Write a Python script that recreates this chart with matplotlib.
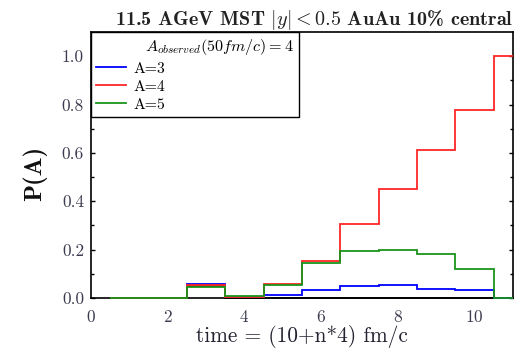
import numpy as np
import matplotlib
matplotlib.use("Agg")
import matplotlib.pyplot as plt
from matplotlib.patches import Rectangle

plt.rcParams["font.family"] = "serif"
plt.rcParams["font.serif"] = ["cmr10"]
plt.rcParams["mathtext.fontset"] = "cm"
plt.rcParams["axes.formatter.use_mathtext"] = True

# bin index n (time = 10 + n*4 fm/c)
n_bins = [1, 2, 3, 4, 5, 6, 7, 8, 9, 10, 11]
p_a3 = [0, 0, 0.059, 0.003, 0.013, 0.034, 0.049, 0.055, 0.037, 0.031, 0]
p_a4 = [0, 0, 0.055, 0.004, 0.059, 0.153, 0.305, 0.450, 0.612, 0.776, 1.0]
p_a5 = [0, 0, 0.047, 0.008, 0.052, 0.145, 0.194, 0.200, 0.182, 0.120, 0]
p_other = [0, 0, 0.051, 0, 0, 0, 0, 0, 0, 0, 0]

series = [
    ("A=3", p_a3, "#0000ff"),
    ("A=4", p_a4, "#ff2626"),
    ("A=5", p_a5, "#1a941a"),
]

edges = np.append(np.array(n_bins) - 0.5, n_bins[-1] + 0.5)

fig = plt.figure(figsize=(5.2, 3.55), dpi=100)
ax = fig.add_axes([0.175, 0.1606, 0.8115, 0.7494])

# clip to the x-range only, so lines at P=0 sit on top of the bottom spine
clip = Rectangle((0, -0.05), 1, 1.1, transform=ax.transAxes, visible=False)
ax.add_patch(clip)

# unlabeled black histogram sits underneath the others
arts = [ax.stairs(p_other, edges, color="black", lw=1.3, baseline=None, zorder=3)]
for label, vals, col in series:
    arts.append(ax.stairs(vals, edges, color=col, lw=1.3, label=label,
                          baseline=None, zorder=3))
for a in arts:
    a.set_clip_path(clip)

ax.set_xlim(0, 11)
ax.set_ylim(0, 1.1)
ax.set_xticks([0, 2, 4, 6, 8, 10])
ax.set_yticks([0.0, 0.2, 0.4, 0.6, 0.8, 1.0])
ax.set_yticklabels(["0.0", "0.2", "0.4", "0.6", "0.8", "1.0"])
ax.set_yticks(np.arange(0.1, 1.1, 0.2), minor=True)
ax.tick_params(axis="both", which="both", direction="in", colors="black",
               labelcolor="#3c3c50", labelsize=12.5, length=3, width=1)
ax.tick_params(axis="y", which="both", right=True, pad=5)
ax.tick_params(axis="y", which="minor", length=2)
ax.tick_params(axis="x", length=0, pad=8)
for sp in ax.spines.values():
    sp.set_linewidth(1.2)

ax.set_xlabel("time = (10+n*4) fm/c", fontsize=15.4, color="#222230", labelpad=0)
ax.set_ylabel("P(A)", fontfamily="cmb10", fontsize=18, color="#111111")
ax.yaxis.set_label_coords(-0.105, 0.47)
ax.set_title(r"11.5 AGeV MST $|y| < 0.5$ AuAu 10% central",
             fontfamily="cmb10", fontsize=14.5, color="#222222", pad=5, loc="right")

leg = ax.legend(loc="upper left", bbox_to_anchor=(0, 1, 0.493, 0), mode="expand",
                borderaxespad=0, fancybox=False, framealpha=1, edgecolor="black",
                fontsize=11.3, title=r"$A_{observed}(50fm/c) = 4\;\;$", title_fontsize=11.6,
                handlelength=1.9, handletextpad=0.45, labelspacing=0.26,
                borderpad=0.35)
leg.get_frame().set_linewidth(1.0)
leg.set_zorder(5)
leg._legend_box.align = "right"

fig.savefig("out.png", dpi=100)
